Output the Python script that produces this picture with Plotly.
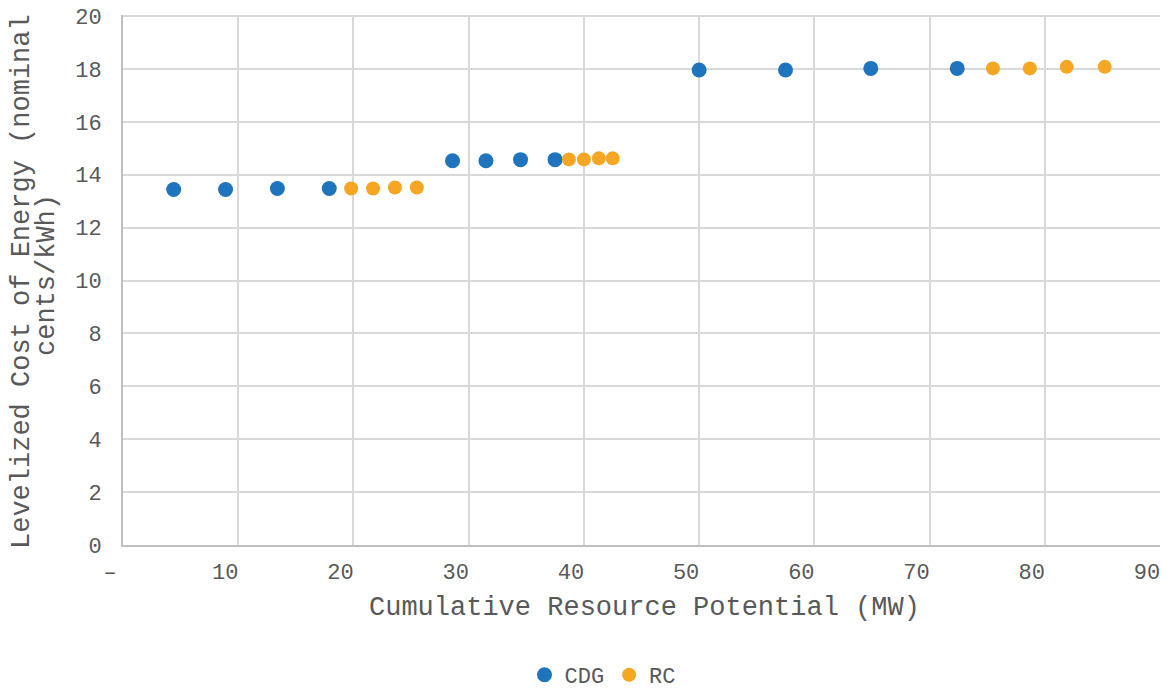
import plotly.graph_objects as go

cdg_x = [4.4, 8.9, 13.4, 17.9, 28.6, 31.5, 34.5, 37.5, 50.0, 57.5, 64.9, 72.4]
cdg_y = [13.44, 13.44, 13.48, 13.48, 14.53, 14.53, 14.57, 14.57, 17.96, 17.96, 18.02, 18.02]
rc_x = [19.8, 21.7, 23.6, 25.5, 38.7, 40.0, 41.3, 42.5, 75.5, 78.7, 81.9, 85.2]
rc_y = [13.48, 13.48, 13.52, 13.52, 14.58, 14.58, 14.62, 14.62, 18.02, 18.02, 18.08, 18.08]

x_tickvals = [0, 10, 20, 30, 40, 50, 60, 70, 80, 90]
x_ticktext = ["–", "10", "20", "30", "40", "50", "60", "70", "80", "90"]
y_tickvals = [0, 2, 4, 6, 8, 10, 12, 14, 16, 18, 20]

FONT = "Liberation Mono, Courier New, monospace"
GRAY = "#595959"

OFF = 8  # page body margin
W, H = 1169 - OFF, 692 - OFF
# plot area in page pixels: x 123..1160, y 15..545 (y range padded slightly so top grid shows)
L = 123 - OFF
T = 15 - OFF
R = (W + OFF) - 1160
B = (H + OFF) - 545
PW = W - L - R
PH = H - T - B


def px_x(px):
    return (px - OFF - L) / PW


def px_y(py):
    return (H - B - (py - OFF)) / PH


fig = go.Figure()
fig.add_trace(go.Scatter(x=cdg_x, y=cdg_y, mode="markers", name="CDG",
                         marker=dict(color="#1f74bd", size=15)))
fig.add_trace(go.Scatter(x=rc_x, y=rc_y, mode="markers", name="RC",
                         marker=dict(color="#f5a623", size=14)))

fig.update_layout(
    width=W, height=H,
    margin=dict(l=L, r=R, t=T, b=B),
    paper_bgcolor="white", plot_bgcolor="white",
    font=dict(family=FONT, color=GRAY, size=22),
    showlegend=True,
    legend=dict(orientation="h", xref="container", yref="container",
                x=(603 - OFF) / W, xanchor="center",
                y=1 - (675 - OFF) / H, yanchor="middle",
                font=dict(size=22, color=GRAY), tracegroupgap=0),
    xaxis=dict(range=[0, 90], tickvals=x_tickvals, ticktext=x_ticktext,
               showgrid=True, gridcolor="#d9d9d9", gridwidth=2,
               showline=True, linecolor="#bfbfbf", linewidth=2,
               zeroline=False, ticks="", ticklabelstandoff=6, ticklabelshift=-13,
               ticklabeloverflow="allow",
               automargin=False, tickfont=dict(size=22, color=GRAY)),
    yaxis=dict(range=[0, 20.04], tickvals=y_tickvals,
               showgrid=True, gridcolor="#d9d9d9", gridwidth=2,
               showline=True, linecolor="#bfbfbf", linewidth=2,
               zeroline=False, ticks="", ticklabelstandoff=15,
               ticklabeloverflow="allow",
               automargin=False, tickfont=dict(size=22, color=GRAY)),
    annotations=[
        dict(text="Cumulative Resource Potential (MW)", xref="paper", yref="paper",
             x=px_x(644), y=px_y(608), xanchor="center", yanchor="middle",
             showarrow=False, font=dict(size=27, color=GRAY)),
        dict(text="Levelized Cost of Energy (nominal", xref="paper", yref="paper",
             x=px_x(22), y=px_y(282), xanchor="center", yanchor="middle", textangle=-90,
             showarrow=False, font=dict(size=27, color=GRAY)),
        dict(text="cents/kWh)", xref="paper", yref="paper",
             x=px_x(47), y=px_y(275), xanchor="center", yanchor="middle", textangle=-90,
             showarrow=False, font=dict(size=27, color=GRAY)),
    ],
)

fig.write_html("out.html")
